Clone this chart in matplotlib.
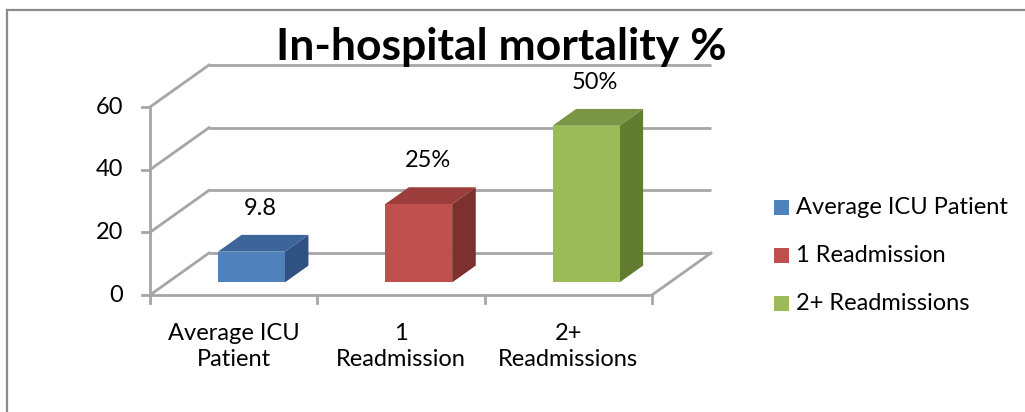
import matplotlib
matplotlib.use("Agg")
import matplotlib.pyplot as plt
from matplotlib.patches import Polygon, Rectangle

# ---- data ----
categories = ["Average ICU\nPatient", "1\nReadmission", "2+\nReadmissions"]
series_names = ["Average ICU Patient", "1 Readmission", "2+ Readmissions"]
values = [9.8, 25, 50]
value_labels = ["9.8", "25%", "50%"]
y_ticks = [0, 20, 40, 60]
title = "In-hospital mortality %"

# ---- style ----
front_cols = ["#4F81BD", "#C0504D", "#9BBB59"]
top_cols = ["#3D659A", "#9A3D3B", "#7A9644"]
side_cols = ["#2F5282", "#7E302E", "#627D32"]
grid_col = "#A6A6A6"
W, H = 1025, 412
FONT = "Lato"
FS = 17

fig = plt.figure(figsize=(W / 100, H / 100), dpi=100)
ax = fig.add_axes([0, 0, 1, 1])
ax.set_axis_off()

# front plane: x=0 -> px150, x=3 -> px652 ; y=0 -> px295, y=60 -> px107
x0p, x3p = 150.0, 652.0
y0p, y60p = 295.0, 107.0
sx = (x3p - x0p) / 3.0
sy = (y0p - y60p) / 60.0
ax.set_xlim(-x0p / sx, (W - x0p) / sx)
ax.set_ylim(-(H - y0p) / sy, y0p / sy)

DX = 59.0 / sx   # depth offset in data x
DY = 42.0 / sy   # depth offset in data y


def P(x, y, d):
    return (x + d * DX, y + d * DY)


glw = 2.0
ymax = y_ticks[-1]
ncat = len(categories)
# back wall gridlines and left wall diagonals
for t in y_ticks:
    a, b = P(0, t, 1), P(ncat, t, 1)
    ax.plot([a[0], b[0]], [a[1], b[1]], color=grid_col, lw=glw, zorder=1,
            solid_capstyle="butt")
    a, b = P(0, t, 0), P(0, t, 1)
    ax.plot([a[0], b[0]], [a[1], b[1]], color=grid_col, lw=glw, zorder=1)
# floor front and right edges
a, b = P(0, 0, 0), P(ncat, 0, 0)
ax.plot([a[0], b[0]], [a[1], b[1]], color=grid_col, lw=glw, zorder=1)
a, b = P(ncat, 0, 0), P(ncat, 0, 1)
ax.plot([a[0], b[0]], [a[1], b[1]], color=grid_col, lw=glw, zorder=1)
# front vertical axis
ax.plot([0, 0], [0, ymax], color=grid_col, lw=glw, zorder=1)
# y ticks + labels
tick_len_x = 8.0 / sx
tick_len_y = 8.0 / sy
for t in y_ticks:
    ax.plot([-tick_len_x, 0], [t, t], color=grid_col, lw=glw, zorder=1)
    ax.text(-27.0 / sx, t, str(t), ha="right", va="center", fontsize=FS,
            family=FONT, color="black")
# category ticks
for i in range(ncat + 1):
    ax.plot([i, i], [0, -tick_len_y], color=grid_col, lw=glw, zorder=1)
# category labels
for i, c in enumerate(categories):
    ax.text(i + 0.5, -(323 - y0p) / sy, c, ha="center", va="top",
            fontsize=FS, family=FONT, linespacing=1.32, color="black")

# bars
hw = 0.2
d0, d1 = 0.3, 0.7
for i, v in enumerate(values):
    c = i + 0.5
    side = [P(c + hw, 0, d0), P(c + hw, v, d0), P(c + hw, v, d1), P(c + hw, 0, d1)]
    top = [P(c - hw, v, d0), P(c + hw, v, d0), P(c + hw, v, d1), P(c - hw, v, d1)]
    front = [P(c - hw, 0, d0), P(c + hw, 0, d0), P(c + hw, v, d0), P(c - hw, v, d0)]
    ax.add_patch(Polygon(side, closed=True, fc=side_cols[i], ec="none", zorder=3))
    ax.add_patch(Polygon(top, closed=True, fc=top_cols[i], ec="none", zorder=3))
    ax.add_patch(Polygon(front, closed=True, fc=front_cols[i], ec="none", zorder=3))
    lx, ly = P(c, v, 0.45)
    ax.text(lx, ly + 37.0 / sy, value_labels[i], ha="center", va="center",
            fontsize=FS, family=FONT, color="black", zorder=4)

# title
fig.text(501 / W, 1 - 47 / H, title, ha="center", va="center", fontsize=32,
         family=FONT, weight="bold", color="black")

# legend
for k, name in enumerate(series_names):
    cy = 207 + k * 48.3
    fig.patches.append(Rectangle((774 / W, 1 - (cy + 7.5) / H), 15 / W, 15 / H,
                                 transform=fig.transFigure, fc=front_cols[k],
                                 ec="none"))
    fig.text(796 / W, 1 - cy / H, name, ha="left", va="center", fontsize=FS,
             family=FONT, color="black")

# chart border (top and left)
fig.lines.append(plt.Line2D([7 / W, 1], [1 - 9.5 / H, 1 - 9.5 / H],
                            transform=fig.transFigure, color="#8C8C8C", lw=1.6))
fig.lines.append(plt.Line2D([7 / W, 7 / W], [0, 1 - 9.5 / H],
                            transform=fig.transFigure, color="#8C8C8C", lw=1.6))

fig.savefig("out.png", dpi=100)
